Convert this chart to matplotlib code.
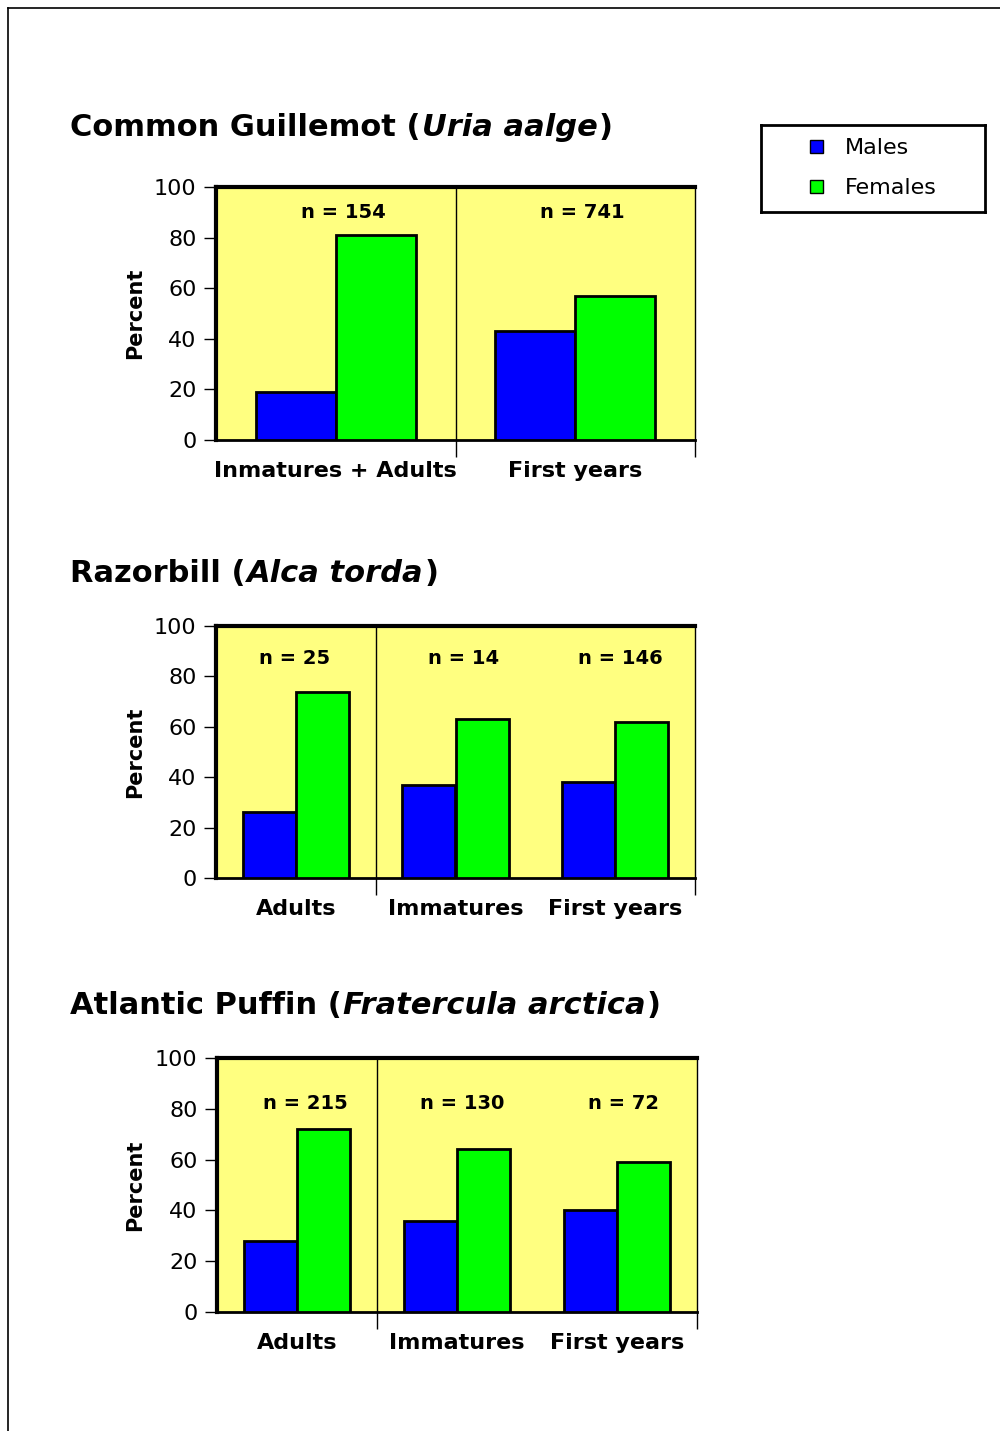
import matplotlib
matplotlib.use("Agg")
import matplotlib.pyplot as plt
from matplotlib.patches import Patch
from matplotlib.lines import Line2D
import numpy as np

plt.rcParams['font.family'] = ['DejaVu Sans']

# ---- data ----
titles_common = ["Common Guillemot (", "Razorbill (", "Atlantic Puffin ("]
titles_latin = ["Uria aalge", "Alca torda", "Fratercula arctica"]

cats_guillemot = ["Inmatures + Adults", "First years"]
males_guillemot = [19, 43]
females_guillemot = [81, 57]
n_guillemot = [154, 741]

cats_razorbill = ["Adults", "Immatures", "First years"]
males_razorbill = [26, 37, 38]
females_razorbill = [74, 63, 62]
n_razorbill = [25, 14, 146]

cats_puffin = ["Adults", "Immatures", "First years"]
males_puffin = [28, 36, 40]
females_puffin = [72, 64, 59]
n_puffin = [215, 130, 72]

yticks = [0, 20, 40, 60, 80, 100]
series_labels = ["Males", "Females"]

# ---- style ----
W, H = 1000, 1431
BLUE = "#0000FF"
GREEN = "#00FF00"
YELLOW = "#FFFF80"

fig = plt.figure(figsize=(W / 100, H / 100), dpi=100)

def fx(px):
    return px / W

def fy(py):
    return 1 - py / H

panels = [
    dict(cats=cats_guillemot, m=males_guillemot, f=females_guillemot, n=n_guillemot,
         box=(216, 187, 695, 440), title_y=128, n_y=90, div=[0.5], noff=[0.03, 0.03]),
    dict(cats=cats_razorbill, m=males_razorbill, f=females_razorbill, n=n_razorbill,
         box=(216, 626, 695, 878), title_y=573, n_y=87, div=[0.5], noff=[-0.01, 0.05, 0.03]),
    dict(cats=cats_puffin, m=males_puffin, f=females_puffin, n=n_puffin,
         box=(217, 1058, 697, 1312), title_y=1006, n_y=82, div=[0.5], noff=[0.05, 0.03, 0.04]),
]

renderer = fig.canvas.get_renderer()

def draw_title(x_px, y_px, parts):
    x = fx(x_px)
    for txt, style in parts:
        t = fig.text(x, fy(y_px), txt, fontsize=22, fontweight='bold',
                     fontstyle=style, ha='left', va='center')
        bb = t.get_window_extent(renderer=renderer)
        x += (bb.width + 1) / W

for i, p in enumerate(panels):
    l, t, r, b = p['box']
    ax = fig.add_axes([fx(l), fy(b), fx(r - l), (b - t) / H])
    ax.set_facecolor(YELLOW)
    ncat = len(p['cats'])
    x = np.arange(ncat)
    bw = 0.334
    ax.bar(x - bw / 2, p['m'], width=bw, color=BLUE, edgecolor='black', linewidth=2, zorder=3)
    ax.bar(x + bw / 2, p['f'], width=bw, color=GREEN, edgecolor='black', linewidth=2, zorder=3)
    for d in p['div']:
        ax.axvline(d, color='black', linewidth=1, zorder=2)
    for xi, nv, off in zip(x, p['n'], p['noff']):
        ax.text(xi + off, p['n_y'], f"n = {nv}", ha='center', va='center',
                fontsize=14, fontweight='bold', zorder=4)
    ax.set_xlim(-0.5, ncat - 0.5)
    ax.set_ylim(0, 100)
    ax.set_yticks(yticks)
    ax.set_yticklabels([str(v) for v in yticks], fontsize=16)
    ax.tick_params(axis='y', direction='out', length=9, width=1, pad=5)
    ax.set_xticks(x)
    ax.set_xticklabels(p['cats'], fontsize=16, fontweight='bold')
    ax.tick_params(axis='x', which='major', length=0, pad=15)
    ax.set_xticks(p['div'] + [ncat - 0.5], minor=True)
    ax.tick_params(axis='x', which='minor', direction='out', length=12, width=1)
    ax.spines['left'].set_linewidth(3)
    ax.spines['top'].set_linewidth(3)
    ax.spines['bottom'].set_linewidth(2)
    ax.spines['right'].set_linewidth(1)
    ax.set_ylabel("Percent", fontsize=15, fontweight='bold')
    ax.yaxis.set_label_coords((145 - l) / (r - l), 0.5)
    draw_title(70, p['title_y'], [(titles_common[i], 'normal'),
                                   (titles_latin[i], 'italic'),
                                   (")", 'normal')])

# legend box
lax = fig.add_axes([fx(761), fy(212), fx(985 - 761), (212 - 125) / H])
lax.set_xticks([])
lax.set_yticks([])
for s in lax.spines.values():
    s.set_linewidth(2)
handles = [Patch(facecolor=BLUE, edgecolor='black', linewidth=1),
           Patch(facecolor=GREEN, edgecolor='black', linewidth=1)]
lax.legend(handles, series_labels, loc='center left', bbox_to_anchor=(0.22, 0.5),
           frameon=False, handlelength=0.55, handleheight=0.55, labelspacing=0.9,
           handletextpad=1.0, fontsize=16, borderpad=0, borderaxespad=0)

# page border
fig.add_artist(Line2D([fx(8), 1], [fy(8), fy(8)], color='black', linewidth=1.2))
fig.add_artist(Line2D([fx(8), fx(8)], [fy(8), 0], color='black', linewidth=1.2))

fig.savefig("out.png", dpi=100)
